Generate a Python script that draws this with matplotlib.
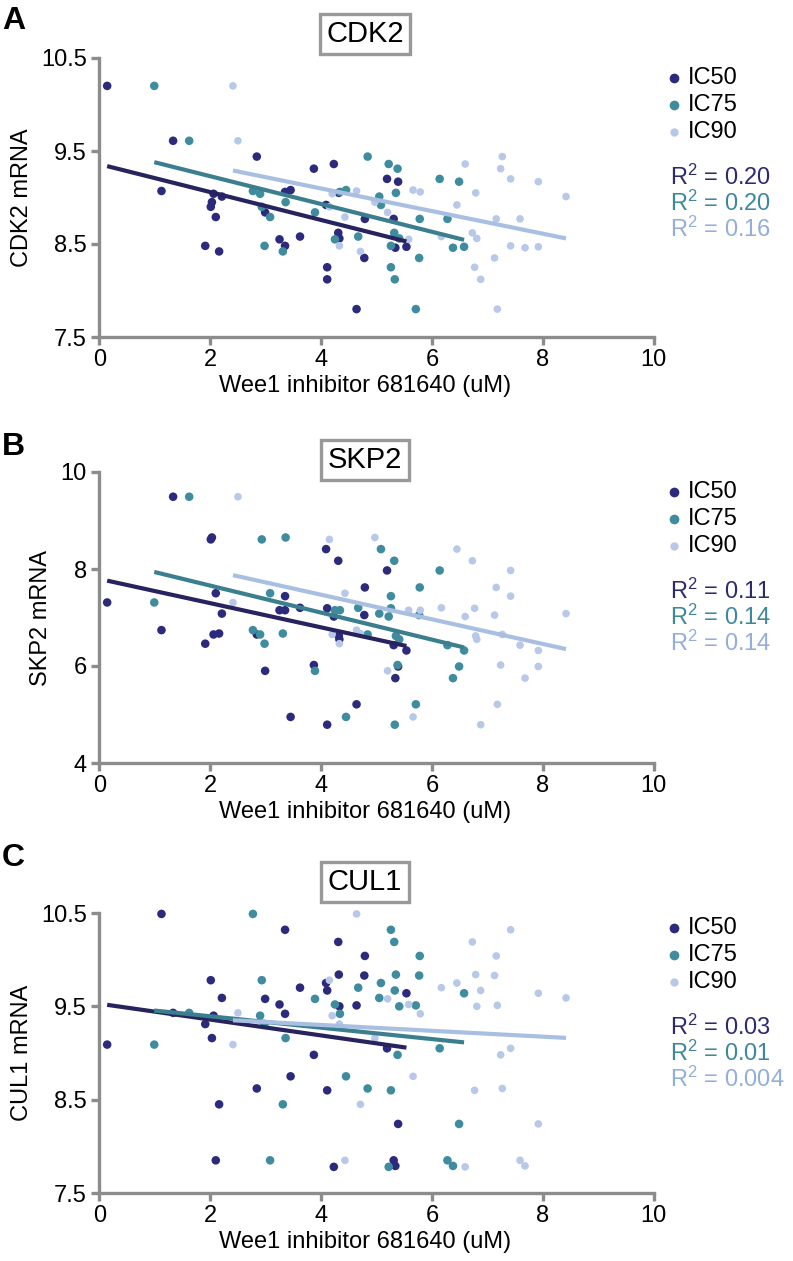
import numpy as np
import matplotlib
matplotlib.use("Agg")
import matplotlib.pyplot as plt

plt.rcParams['font.family'] = ['Liberation Sans', 'DejaVu Sans']
plt.rcParams['mathtext.fontset'] = 'custom'
plt.rcParams['mathtext.rm'] = 'Liberation Sans'
plt.rcParams['mathtext.it'] = 'Liberation Sans:italic'

# ---- data: one entry per cell line ----
x_ic50 = [0.14, 1.33, 2.84, 4.23, 3.87, 5.19, 5.39, 3.45, 1.12, 3.35, 4.32, 2.06, 2.21,
          2.03, 4.09, 2.01, 2.99, 2.10, 4.79, 5.31, 4.31, 3.62, 4.33, 3.25, 3.35, 1.91,
          5.54, 5.34, 2.16, 4.78, 4.11, 4.11, 4.64]
x_ic75 = [0.99, 1.62, 4.84, 5.22, 5.38, 6.14, 6.49, 4.45, 2.77, 4.34, 5.35, 2.90, 5.05,
          3.36, 5.08, 2.93, 3.89, 3.08, 5.78, 6.28, 5.32, 4.67, 5.41, 4.25, 5.26, 2.98,
          6.58, 6.38, 3.31, 5.77, 5.26, 5.33, 5.71]
x_ic90 = [2.41, 2.50, 7.27, 6.60, 7.24, 7.42, 7.92, 5.66, 4.64, 5.79, 6.79, 4.20, 8.42,
          4.97, 6.45, 4.15, 5.20, 4.43, 7.16, 7.59, 6.73, 6.17, 6.81, 5.58, 7.42, 4.33,
          7.92, 7.68, 4.71, 7.13, 6.77, 6.88, 7.18]
cdk2 = [10.20, 9.61, 9.44, 9.36, 9.31, 9.20, 9.17, 9.08, 9.07, 9.06, 9.05, 9.04, 9.01,
        8.95, 8.92, 8.90, 8.84, 8.79, 8.77, 8.77, 8.62, 8.58, 8.56, 8.55, 8.48, 8.48,
        8.47, 8.46, 8.42, 8.35, 8.25, 8.12, 7.80]
skp2 = [7.31, 9.49, 6.65, 7.02, 6.02, 7.97, 5.99, 4.95, 6.74, 7.15, 6.62, 6.65, 7.08,
        8.65, 8.41, 8.61, 5.90, 7.50, 7.62, 6.43, 8.17, 7.20, 6.55, 7.15, 7.44, 6.46,
        6.32, 5.75, 6.67, 7.05, 7.19, 4.79, 5.21]
cul1 = [9.09, 9.43, 8.62, 7.78, 8.98, 9.05, 8.24, 8.75, 10.49, 9.42, 9.84, 9.40, 9.59,
        9.16, 9.75, 9.78, 9.58, 7.85, 10.04, 7.85, 10.19, 9.70, 9.50, 9.52, 10.32, 9.31,
        9.64, 7.79, 8.45, 9.83, 8.60, 9.67, 9.51]

genes = ['CDK2', 'SKP2', 'CUL1']
panel_letters = ['A', 'B', 'C']
series_labels = ['IC50', 'IC75', 'IC90']
r2_values = [['0.20', '0.20', '0.16'], ['0.11', '0.14', '0.14'], ['0.03', '0.01', '0.004']]
y_limits = [(7.5, 10.5), (4, 10), (7.5, 10.5)]
y_ticks = [[7.5, 8.5, 9.5, 10.5], [4, 6, 8, 10], [7.5, 8.5, 9.5, 10.5]]
y_ticklabels = [['7.5', '8.5', '9.5', '10.5'], ['4', '6', '8', '10'], ['7.5', '8.5', '9.5', '10.5']]
x_ticks = [0, 2, 4, 6, 8, 10]
x_label = 'Wee1 inhibitor 681640 (uM)'

# ---- styling ----
W, H = 793, 1261
dot_colors = ['#2c2a7c', '#3e8c9e', '#b8c8e8']
line_colors = ['#27235f', '#3b7f8e', '#a9bfe2']
r2_colors = ['#2d2a6e', '#3f8899', '#93aed8']
grey = '#8c8c8c'
FS = 17

fig = plt.figure(figsize=(W / 100, H / 100), dpi=100)

def fx(px):
    return px / W

def fy(py):
    return 1 - py / H

# axes boxes in pixels: (left, top, right, bottom)
boxes = [(99.4, 58, 653.6, 337), (99.4, 472, 653.6, 763), (99.4, 913, 653.6, 1193)]
title_y = [34, 460, 882]
letter_y = [21, 447, 858]
legend_top = [78, 492, 928]

xs = [x_ic50, x_ic75, x_ic90]
ys_all = [cdk2, skp2, cul1]

for p in range(3):
    l, t, r, b = boxes[p]
    ax = fig.add_axes([fx(l), fy(b), fx(r) - fx(l), fy(t) - fy(b)])
    yv = np.array(ys_all[p])
    for s in range(3):
        xv = np.array(xs[s])
        size = 38 if s < 2 else 30
        ax.scatter(xv, yv, s=size, color=dot_colors[s], edgecolors='none', zorder=3, clip_on=False)
        k, c0 = np.polyfit(xv, yv, 1)
        xl = np.array([xv.min(), xv.max()])
        ax.plot(xl, k * xl + c0, color=line_colors[s], lw=3.0, solid_capstyle='butt', zorder=4)
    ax.set_xlim(0, 10)
    ax.set_ylim(*y_limits[p])
    ax.set_xticks(x_ticks)
    ax.set_xticklabels([str(v) for v in x_ticks])
    ax.set_yticks(y_ticks[p])
    ax.set_yticklabels(y_ticklabels[p])
    for side in ['top', 'right']:
        ax.spines[side].set_visible(False)
    for side in ['left', 'bottom']:
        ax.spines[side].set_color(grey)
        ax.spines[side].set_linewidth(2.4)
    ax.tick_params(axis='both', colors=grey, width=2.4, length=6, labelsize=FS,
                   labelcolor='black', pad=3)
    ax.set_xlabel(x_label, fontsize=FS)
    ax.xaxis.set_label_coords((365 - l) / (r - l), -38 / (b - t))
    ax.set_ylabel(genes[p] + ' mRNA', fontsize=FS, labelpad=6)

    # title box
    fig.text(fx(365), fy(title_y[p]), genes[p], fontsize=21, ha='center', va='center',
             bbox=dict(boxstyle='square,pad=0.22', fc='white', ec='#999999', lw=2.4))
    # panel letter
    fig.text(fx(2), fy(letter_y[p]), panel_letters[p], fontsize=23, fontweight='bold',
             ha='left', va='center')
    # legend
    ly = legend_top[p]
    for s in range(3):
        yy = ly + s * 27
        fig.text(fx(688), fy(yy), series_labels[s], fontsize=FS, ha='left', va='center')
        fig.add_artist(plt.Line2D([fx(674)], [fy(yy)], marker='o', ms=7 if s < 2 else 6,
                                  color=dot_colors[s], mec='none', transform=fig.transFigure))
    for s in range(3):
        yy = ly + 99 + s * 26
        fig.text(fx(670), fy(yy), r'R$^{\mathregular{2}}$ = ' + r2_values[p][s], fontsize=FS,
                 color=r2_colors[s], ha='left', va='center')

fig.savefig('out.png', dpi=100)
